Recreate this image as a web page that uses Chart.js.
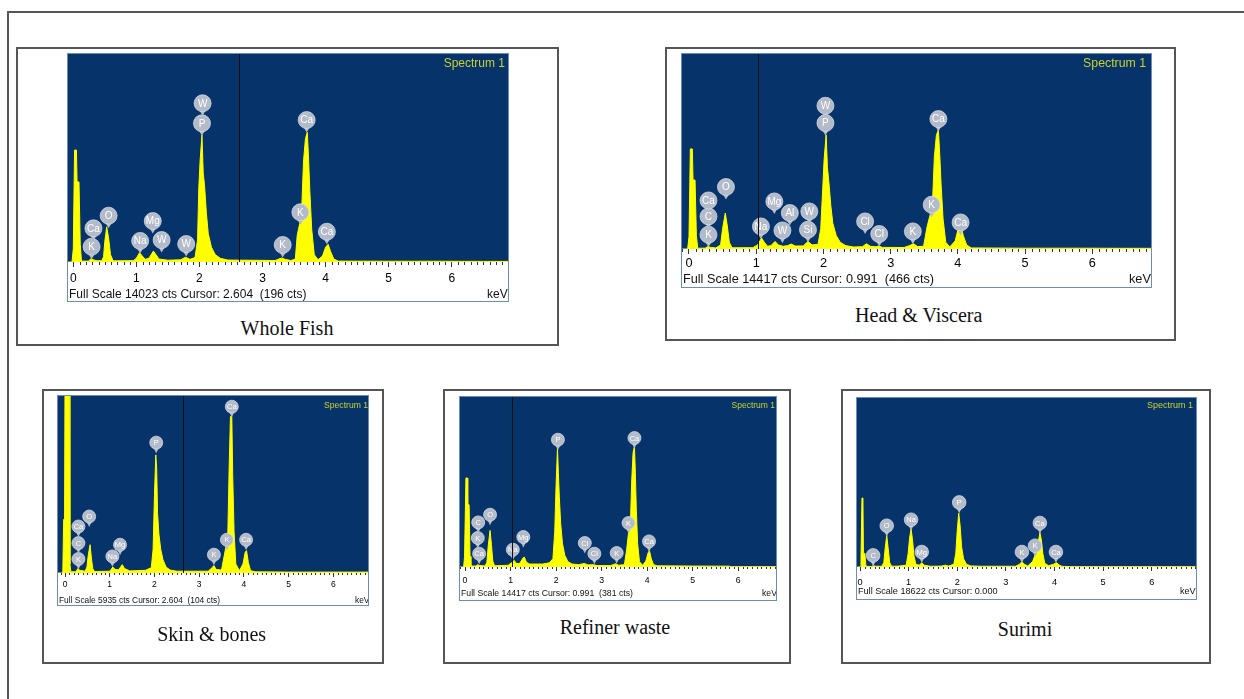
<!DOCTYPE html>
<html><head><meta charset="utf-8">
<script src="https://cdn.jsdelivr.net/npm/chart.js@4.4.1/dist/chart.umd.min.js"></script>
<style>
html,body{margin:0;padding:0;background:#fff;}
#page{position:relative;width:1244px;height:699px;overflow:hidden;background:#fff;}
.box{position:absolute;box-sizing:border-box;border:2px solid #555;}
.frame{position:absolute;box-sizing:border-box;border:1px solid #6d8cbc;background:#fff;overflow:hidden;}
.frame canvas{position:absolute;left:0;top:0;}
.txt{position:absolute;white-space:nowrap;font-family:"Liberation Sans",Arial,sans-serif;line-height:1;transform:translateY(-50%);}
.cap{position:absolute;white-space:nowrap;font-family:"Liberation Serif","Times New Roman",serif;font-size:20px;line-height:1;color:#111;transform:translate(-50%,-50%);}
</style></head>
<body><div id="page"></div>
<script>
// ---------------- DATA ----------------
const tickValues = [0, 1, 2, 3, 4, 5, 6];
const panelNames = ['Whole Fish', 'Head & Viscera', 'Skin & bones', 'Refiner waste', 'Surimi'];
const fullScaleCts = [14023, 14417, 5935, 14417, 18622];
const cursorReadout = ['2.604', '0.991', '2.604', '0.991', '0.000'];
const cursorCtsReadout = ['196', '466', '104', '381', null];
const cursorKeV = [2.63, 1.02, 2.63, 1.04, null];

// spectra: [keV, counts]
const wholeFishSpectrum = [[-0.08,0],[-0.02,0],[0.00,900],[0.02,7550],[0.05,7550],[0.06,5400],[0.09,5400],[0.11,1200],[0.13,60],[0.24,60],[0.28,220],[0.32,150],[0.36,90],[0.45,80],[0.48,350],[0.50,1400],[0.53,2370],[0.56,1600],[0.59,500],[0.63,80],[0.95,90],[1.00,250],[1.05,630],[1.09,420],[1.14,180],[1.20,260],[1.27,740],[1.31,500],[1.36,200],[1.50,120],[1.70,150],[1.78,320],[1.85,180],[1.93,300],[1.97,1500],[1.99,5000],[2.01,6800],[2.04,8560],[2.06,6000],[2.08,5200],[2.11,3300],[2.14,1900],[2.19,1000],[2.25,500],[2.33,250],[2.45,130],[2.80,120],[3.20,100],[3.30,270],[3.36,180],[3.45,100],[3.52,200],[3.55,1800],[3.59,2600],[3.62,3400],[3.65,6800],[3.68,8300],[3.71,8750],[3.73,7000],[3.75,4800],[3.78,2200],[3.82,500],[3.88,150],[3.95,400],[4.00,1000],[4.04,1190],[4.08,700],[4.13,200],[4.20,60],[5.00,50],[5.80,50],[6.50,40],[6.90,40]];
const headVisceraSpectrum = [[-0.10,0],[-0.02,0],[0.00,900],[0.02,7400],[0.05,7400],[0.06,5100],[0.09,5100],[0.11,1000],[0.13,60],[0.24,60],[0.28,180],[0.32,120],[0.40,80],[0.47,300],[0.50,1500],[0.54,2660],[0.57,1700],[0.60,500],[0.64,90],[0.95,100],[1.02,300],[1.08,810],[1.12,500],[1.17,200],[1.22,250],[1.28,560],[1.33,300],[1.40,200],[1.47,250],[1.52,370],[1.58,220],[1.70,230],[1.77,560],[1.83,300],[1.92,350],[1.96,1500],[1.99,4500],[2.01,6600],[2.04,8440],[2.06,6000],[2.08,5000],[2.11,3200],[2.14,1900],[2.19,1000],[2.25,500],[2.33,250],[2.45,150],[2.58,170],[2.64,390],[2.70,200],[2.78,160],[2.82,220],[2.88,120],[3.20,110],[3.28,250],[3.34,390],[3.40,180],[3.49,200],[3.54,1600],[3.58,2400],[3.62,3100],[3.65,6800],[3.68,8400],[3.71,8820],[3.73,7000],[3.75,4800],[3.78,2200],[3.82,500],[3.88,150],[3.96,600],[4.01,1600],[4.04,1870],[4.08,1000],[4.13,300],[4.20,80],[5.00,60],[5.80,60],[6.50,50],[6.90,50]];
const skinBonesSpectrum = [[-0.16,0],[-0.05,0],[-0.03,1800],[-0.01,1800],[0.00,6500],[0.09,6500],[0.11,300],[0.13,40],[0.24,40],[0.29,150],[0.33,90],[0.45,60],[0.49,200],[0.52,600],[0.56,950],[0.59,500],[0.62,150],[0.66,50],[1.00,60],[1.07,200],[1.12,120],[1.20,110],[1.28,280],[1.33,150],[1.45,70],[1.80,90],[1.93,180],[1.97,800],[2.00,2600],[2.03,3960],[2.05,3500],[2.07,2000],[2.10,1300],[2.14,800],[2.19,450],[2.26,200],[2.35,100],[2.50,60],[2.80,60],[3.20,60],[3.29,180],[3.33,250],[3.38,120],[3.50,100],[3.55,500],[3.60,890],[3.64,1200],[3.67,3500],[3.70,5250],[3.73,5250],[3.75,3300],[3.78,1400],[3.82,300],[3.90,80],[3.98,300],[4.03,700],[4.06,750],[4.10,350],[4.15,80],[4.25,40],[5.00,30],[6.00,30],[6.80,30]];
const refinerWasteSpectrum = [[-0.11,0],[-0.03,0],[-0.01,900],[0.02,7550],[0.05,7550],[0.06,5280],[0.09,5280],[0.11,900],[0.13,80],[0.24,80],[0.28,200],[0.32,130],[0.44,90],[0.48,400],[0.51,1800],[0.55,3100],[0.58,1900],[0.61,500],[0.65,100],[0.95,150],[1.02,350],[1.08,560],[1.13,300],[1.20,300],[1.28,800],[1.30,850],[1.35,400],[1.42,250],[1.70,250],[1.85,350],[1.93,700],[1.97,3000],[2.00,7000],[2.03,10090],[2.05,8000],[2.07,6000],[2.10,3700],[2.14,2000],[2.19,1000],[2.26,450],[2.35,250],[2.50,200],[2.62,300],[2.70,180],[2.82,200],[2.90,120],[3.20,120],[3.31,280],[3.37,150],[3.50,200],[3.55,1500],[3.59,2900],[3.63,3500],[3.66,7300],[3.69,9700],[3.72,10230],[3.74,8000],[3.76,5000],[3.79,2000],[3.83,450],[3.90,150],[3.97,500],[4.02,1200],[4.05,1380],[4.09,700],[4.14,200],[4.22,100],[5.00,80],[5.80,70],[5.85,30],[6.90,30]];
const surimiSpectrum = [[-0.06,0],[0.00,0],[0.02,800],[0.04,7600],[0.06,7600],[0.07,1500],[0.10,1500],[0.12,200],[0.14,60],[0.24,60],[0.28,150],[0.32,80],[0.45,80],[0.49,500],[0.52,2200],[0.55,3480],[0.58,2000],[0.61,500],[0.65,80],[0.80,100],[0.95,200],[0.99,1500],[1.02,3200],[1.05,4180],[1.08,3000],[1.11,1200],[1.15,300],[1.22,200],[1.27,480],[1.32,200],[1.45,80],[1.68,100],[1.75,200],[1.82,100],[1.93,300],[1.97,1500],[2.00,4000],[2.03,5940],[2.06,4500],[2.09,2200],[2.13,900],[2.19,300],[2.28,120],[2.50,80],[3.20,80],[3.28,300],[3.33,580],[3.38,300],[3.45,120],[3.55,600],[3.60,1300],[3.64,1500],[3.67,2800],[3.70,3780],[3.73,3000],[3.76,1500],[3.80,400],[3.88,150],[3.98,300],[4.04,480],[4.09,250],[4.15,80],[4.30,40],[6.90,40]];

// element labels: [element, keV, counts at label centre]
const wholeFishPeaks = [['K',0.29,1030],['Ca',0.32,2270],['O',0.56,3120],['Na',1.06,1420],['Mg',1.26,2760],['W',1.40,1480],['W',1.79,1210],['P',2.04,9350],['W',2.05,10700],['K',3.32,1150],['K',3.60,3350],['Ca',3.70,9570],['Ca',4.02,2040]];
const headVisceraPeaks = [['K',0.29,1057],['C',0.29,2409],['Ca',0.29,3592],['O',0.55,4582],['Na',1.07,1670],['Mg',1.27,3518],['W',1.39,1375],['Al',1.50,2660],['Si',1.77,1426],['W',1.79,2779],['P',2.03,9311],['W',2.03,10590],['Cl',2.62,2040],['Cl',2.83,1109],['K',3.33,1301],['K',3.61,3274],['Ca',3.71,9607],['Ca',4.04,1966]];
const skinBonesPeaks = [['K',0.30,469],['C',0.30,1004],['Ca',0.30,1560],['O',0.54,1894],['Na',1.06,556],['Mg',1.23,947],['P',2.04,4371],['K',3.33,613],['K',3.62,1115],['Ca',3.73,5576],['Ca',4.05,1115]];
const refinerWastePeaks = [['Ca',0.31,1128],['K',0.28,2459],['C',0.29,3782],['O',0.55,4435],['Na',1.05,1467],['Mg',1.28,2544],['P',2.04,10795],['Cl',2.63,2035],['Cl',2.84,1128],['K',3.33,1187],['K',3.59,3731],['Ca',3.72,10939],['Ca',4.04,2171]];
const surimiPeaks = [['C',0.27,1278],['O',0.55,4551],['Na',1.05,5212],['Mg',1.27,1653],['P',2.04,7119],['K',3.33,1653],['K',3.60,2347],['Ca',3.70,4849],['Ca',4.03,1653]];

const spectra = [wholeFishSpectrum, headVisceraSpectrum, skinBonesSpectrum, refinerWasteSpectrum, surimiSpectrum];
const peaks = [wholeFishPeaks, headVisceraPeaks, skinBonesPeaks, refinerWastePeaks, surimiPeaks];

// ---------------- LAYOUT ----------------
const LAYOUT = [
 {box:[16,47,543,299], L:68,T:54,R:508,B:262,FB:301, kev:[-0.084,6.892], tickFont:12, tickPad:4.8, tickLen:5, minorLen:3, r:8.5, lblFont:10, specFont:12, specRight:3, specY:9, fsFont:12, fsY:294, kevX:487, cap:[287,328]},
 {box:[665,47,511,294], L:682,T:54,R:1151,B:249,FB:287, kev:[-0.104,6.873], tickFont:12.7, tickPad:2.2, tickLen:5, minorLen:3, r:8.5, lblFont:10, specFont:12.3, specRight:5, specY:8.5, fsFont:12.7, fsY:279, kevX:1129, cap:[918.7,315]},
 {box:[42,389,342,275], L:58,T:396,R:368,B:573,FB:605, kev:[-0.157,6.776], tickFont:8.5, tickPad:2.4, tickLen:4, minorLen:2, r:6.5, lblFont:7.5, specFont:8.6, specRight:0, specY:9, fsFont:8.4, fsY:600, kevX:355, cap:[211.7,634.3]},
 {box:[443,389,348,275], L:460,T:397,R:776,B:567,FB:600, kev:[-0.11,6.828], tickFont:8.7, tickPad:4.8, tickLen:4, minorLen:2, r:6.5, lblFont:7.5, specFont:8.5, specRight:1, specY:8, fsFont:8.7, fsY:592.7, kevX:762, cap:[615,627]},
 {box:[841,389,370,275], L:857,T:398,R:1196,B:567,FB:599, kev:[-0.062,6.911], tickFont:9.2, tickPad:5.6, tickLen:4, minorLen:2, r:6.8, lblFont:7.5, specFont:9, specRight:3, specY:7, fsFont:9.1, fsY:592.3, kevX:1180, cap:[1025,629]}
];
const PLOT_BLUE = '#06336a';
const SPEC_YELLOW = '#ffff00';
const FONT = '"Liberation Sans", Arial, sans-serif';

const page = document.getElementById('page');
function el(tag, cls, style, parent, text) {
  const e = document.createElement(tag);
  if (cls) e.className = cls;
  Object.assign(e.style, style || {});
  if (text != null) e.textContent = text;
  (parent || page).appendChild(e);
  return e;
}

// outer frame
el('div', 'box', {left:'7px', top:'11px', width:'1300px', height:'800px'});

LAYOUT.forEach((cfg, i) => {
  el('div', 'box', {left:cfg.box[0]+'px', top:cfg.box[1]+'px', width:cfg.box[2]+'px', height:cfg.box[3]+'px'});
  const W = cfg.R - cfg.L, H = cfg.FB - cfg.T;
  const frame = el('div', 'frame', {left:(cfg.L-1)+'px', top:(cfg.T-1)+'px', width:(W+2)+'px', height:(H+2)+'px'});
  const cv = el('canvas', null, {width:W+'px', height:H+'px'}, frame);
  cv.width = W; cv.height = H;

  // texts
  el('div', 'txt', {right:cfg.specRight+'px', top:cfg.specY+'px', fontSize:cfg.specFont+'px', color:'#c8d22c'}, frame, 'Spectrum 1');
  const fsText = 'Full Scale ' + fullScaleCts[i] + ' cts Cursor: ' + cursorReadout[i] + (cursorCtsReadout[i] ? '\u00a0 (' + cursorCtsReadout[i] + ' cts)' : '');
  el('div', 'txt', {left:'1px', top:(cfg.fsY-cfg.T)+'px', fontSize:cfg.fsFont+'px', color:'#111'}, frame, fsText);
  el('div', 'txt', {left:(cfg.kevX-cfg.L)+'px', top:(cfg.fsY-cfg.T)+'px', fontSize:cfg.fsFont+'px', color:'#111'}, frame, 'keV');
  el('div', 'cap', {left:cfg.cap[0]+'px', top:cfg.cap[1]+'px'}, page, panelNames[i]);

  const axisH = cfg.FB - cfg.B;
  const panelPlugin = {
    id: 'eds' + i,
    beforeDraw(chart) {
      const a = chart.chartArea, ctx = chart.ctx;
      ctx.save(); ctx.fillStyle = PLOT_BLUE;
      ctx.fillRect(a.left, a.top, a.right - a.left, a.bottom - a.top);
      ctx.restore();
    },
    afterDatasetsDraw(chart) {
      const ctx = chart.ctx, xs = chart.scales.x, ys = chart.scales.y, a = chart.chartArea;
      ctx.save();
      peaks[i].forEach(([name, kev, cts]) => {
        const x = xs.getPixelForValue(kev), y = ys.getPixelForValue(cts), r = cfg.r;
        ctx.fillStyle = '#b3bbc9';
        ctx.beginPath();
        ctx.moveTo(x - r*0.45, y + r*0.7);
        ctx.lineTo(x + r*0.45, y + r*0.7);
        ctx.lineTo(x, y + r + 4);
        ctx.closePath(); ctx.fill();
        ctx.beginPath(); ctx.arc(x, y, r, 0, Math.PI*2); ctx.fill();
        ctx.strokeStyle = 'rgba(220,225,235,0.9)'; ctx.lineWidth = 0.8; ctx.stroke();
        ctx.fillStyle = '#ffffff';
        ctx.font = cfg.lblFont + 'px ' + FONT;
        ctx.textAlign = 'center'; ctx.textBaseline = 'middle';
        ctx.fillText(name, x, y + 0.5);
      });
      if (cursorKeV[i] != null) {
        const cx = Math.round(xs.getPixelForValue(cursorKeV[i])) + 0.5;
        ctx.strokeStyle = '#111'; ctx.lineWidth = 1;
        ctx.beginPath(); ctx.moveTo(cx, a.top); ctx.lineTo(cx, a.bottom); ctx.stroke();
      }
      ctx.strokeStyle = '#333'; ctx.lineWidth = 1;
      for (let k = Math.ceil(xs.min*10); k <= Math.floor(xs.max*10); k++) {
        if (k % 10 === 0) continue;
        const tx = Math.round(xs.getPixelForValue(k/10)) + 0.5;
        ctx.beginPath(); ctx.moveTo(tx, a.bottom); ctx.lineTo(tx, a.bottom + cfg.minorLen); ctx.stroke();
      }
      ctx.restore();
    }
  };

  new Chart(cv, {
    type: 'line',
    data: { datasets: [{
      data: spectra[i].map(p => ({x: p[0], y: p[1]})),
      borderColor: SPEC_YELLOW, backgroundColor: SPEC_YELLOW,
      borderWidth: 1, fill: 'origin', pointRadius: 0, tension: 0
    }]},
    options: {
      responsive: false, animation: false, devicePixelRatio: 1, events: [],
      layout: { padding: 0, autoPadding: false },
      plugins: { legend: {display: false}, tooltip: {enabled: false}, title: {display: false} },
      scales: {
        x: {
          type: 'linear', bounds: 'data', min: cfg.kev[0], max: cfg.kev[1],
          border: { display: false },
          grid: { display: true, drawOnChartArea: false, drawTicks: true, tickLength: cfg.tickLen, color: '#333', tickColor: '#333', lineWidth: 1 },
          afterBuildTicks: s => { s.ticks = tickValues.map(v => ({value: v})); },
          ticks: { stepSize: 1, includeBounds: false, autoSkip: false, maxRotation: 0, minRotation: 0, color: '#000', padding: cfg.tickPad, font: { family: FONT, size: cfg.tickFont } },
          afterFit: s => { s.height = axisH; s.paddingLeft = 0; s.paddingRight = 0; }
        },
        y: { type: 'linear', display: false, bounds: 'data', min: 0, max: fullScaleCts[i] }
      }
    },
    plugins: [panelPlugin]
  });
});
</script>
</body></html>
